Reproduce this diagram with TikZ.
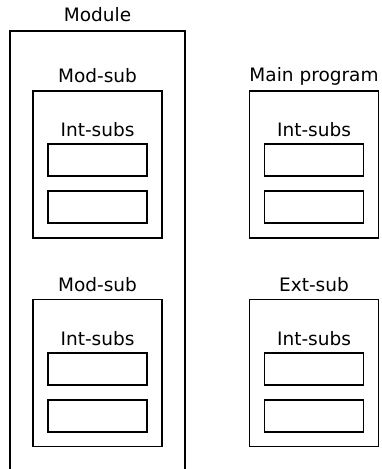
\documentclass[tikz,border=0pt]{standalone}
\usepackage{fontspec}
\setmainfont{DejaVu Sans}

\begin{document}
\begin{tikzpicture}[x=1pt, y=-1pt,
  unitbox/.style={
    draw=black, line width=1.9pt, minimum width=129pt, minimum height=147pt,
    inner sep=0pt
  },
  subbox/.style={
    draw=black, line width=1.9pt, minimum width=99pt, minimum height=32pt,
    inner sep=0pt
  },
  ulabel/.style={
    font=\fontsize{18.5}{20}\selectfont, text=black, inner sep=0pt
  }
]
\useasboundingbox (0,0) rectangle (381,469);
\clip (0,0) rectangle (381,469);

% Module (runs off the bottom)
\node[draw=black, line width=1.9pt, minimum width=175pt, minimum height=470pt,
  inner sep=0pt] (module) at (97.5,266) {};
\node[ulabel] (modlabel) at ([yshift=15pt]module.north) {Module};

% Units
\node[unitbox] (modsubA) at (97.5,164.5) {};
\node[ulabel] at ([yshift=14pt]modsubA.north) {Mod-sub};

\node[unitbox] (modsubB) at (97.5,373) {};
\node[ulabel] at ([yshift=14pt]modsubB.north) {Mod-sub};

\node[unitbox] (mainprog) at (314,164.5) {};
\node[ulabel] at ([yshift=14pt]mainprog.north) {Main program};

\node[unitbox] (extsub) at (314,373) {};
\node[ulabel] at ([yshift=14pt]extsub.north) {Ext-sub};

% Internal subs in each unit
\foreach \u in {modsubA, modsubB, mainprog, extsub} {
  \node[ulabel] (\u-int) at ([yshift=-40pt]\u.north) {Int-subs};
  \node[subbox] (\u-one) at ([yshift=-70pt]\u.north) {};
  \node[subbox] (\u-two) at ([yshift=-117pt]\u.north) {};
}

\end{tikzpicture}
\end{document}
